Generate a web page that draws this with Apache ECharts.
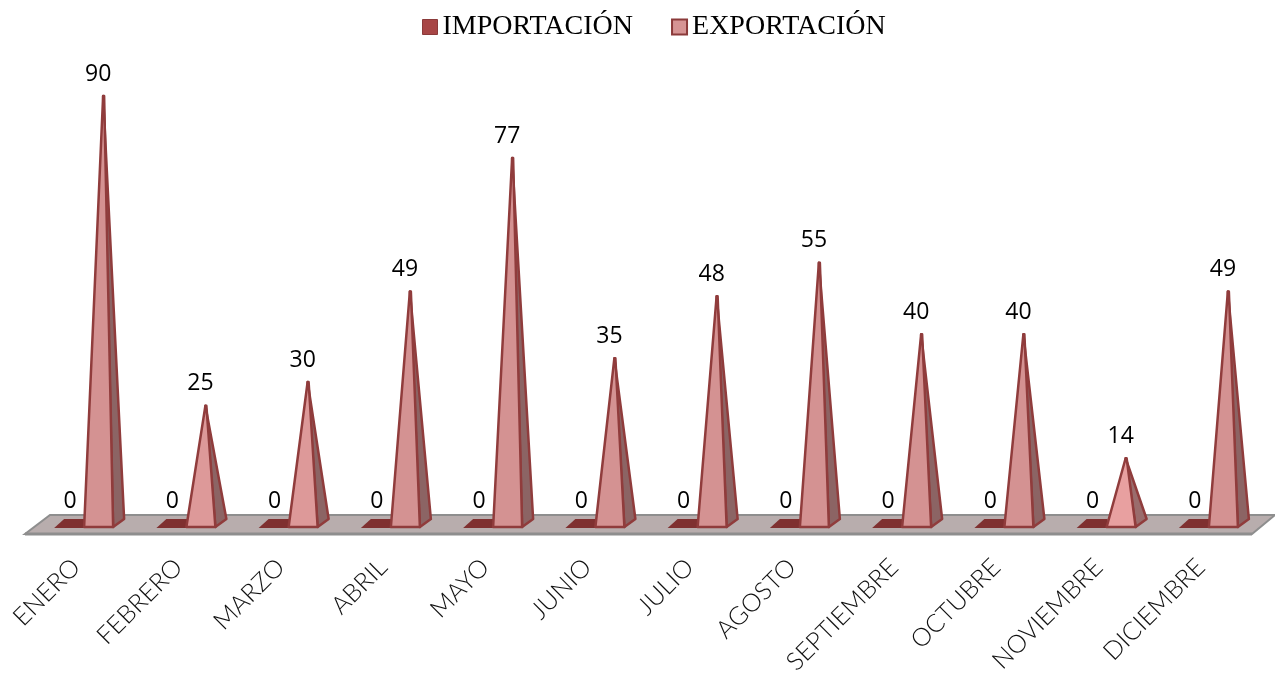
<!DOCTYPE html>
<html>
<head>
<meta charset="utf-8">
<style>
  html, body { margin: 0; padding: 0; background: #fff; }
  #chart { width: 1275px; height: 673px; }
</style>
<script src="https://cdn.jsdelivr.net/npm/echarts@6/dist/echarts.min.js"></script>
</head>
<body>
<div id="chart"></div>
<script>
const meses = ['ENERO', 'FEBRERO', 'MARZO', 'ABRIL', 'MAYO', 'JUNIO', 'JULIO', 'AGOSTO', 'SEPTIEMBRE', 'OCTUBRE', 'NOVIEMBRE', 'DICIEMBRE']
const importacion = [0, 0, 0, 0, 0, 0, 0, 0, 0, 0, 0, 0]
const exportacion = [90, 25, 30, 49, 77, 35, 48, 55, 40, 40, 14, 49]

const numFont = '23px "Open Sans"'
const borde = '#903c3c'

function etiqueta(x, y, valor) {
  return {
    type: 'text',
    style: { x, y, text: String(valor), font: numFont, fill: '#000', align: 'center', verticalAlign: 'middle' }
  }
}

// piso gris del grafico 3d
function renderPiso(params) {
  const g = params.coordSys
  const yBase = g.y + g.height
  return {
    type: 'group',
    children: [{
      type: 'polygon',
      shape: { points: [[g.x, yBase + 9], [g.x + g.width, yBase + 9], [g.x + g.width + 23, yBase - 10], [g.x + 25, yBase - 10]] },
      style: { fill: '#b8adad', stroke: '#8e8e8e', lineWidth: 2 }
    }, {
      type: 'line',
      shape: { x1: g.x, y1: yBase + 9, x2: g.x + g.width, y2: yBase + 9 },
      style: { stroke: '#8e8e8e', lineWidth: 3 }
    }]
  }
}

// importacion: valor 0, solo queda la base plana
function renderImportacion(params, api) {
  const p = api.coord([api.value(0), api.value(1)])
  const base = p[1] + 3
  const cx = p[0]
  return {
    type: 'group',
    children: [{
      type: 'polygon',
      shape: { points: [[cx - 22, base], [cx + 9, base], [cx + 9, base - 9], [cx - 12, base - 9]] },
      style: { fill: '#7f3030' }
    }, etiqueta(cx - 6, p[1] - 24, api.value(1))]
  }
}

// las piramides cortas salen mas claras en el original
function colorFrente(v) {
  if (v < 20) return '#e8a0a0'
  if (v < 35) return '#dd9999'
  return '#d49292'
}

function renderExportacion(params, api) {
  const idx = api.value(0)
  const v = api.value(1)
  const cero = api.coord([idx, 0])
  const p = api.coord([idx, v])
  const cx = cero[0]
  const base = cero[1] + 2
  const ax = cx + 27
  return {
    type: 'group',
    children: [{
      type: 'polygon',
      shape: { points: [[cx + 37, base], [cx + 48, base - 8], [ax, p[1]]] },
      style: { fill: v < 20 ? '#9a6c6c' : '#8c6464', stroke: borde, lineWidth: 2.5, lineJoin: 'round' }
    }, {
      type: 'polygon',
      shape: { points: [[cx + 8, base], [cx + 37, base], [ax + 1, p[1]], [ax, p[1]]] },
      style: { fill: colorFrente(v), stroke: borde, lineWidth: 2.5, lineJoin: 'round' }
    }, etiqueta(cx + 22, p[1] - 22, v)]
  }
}

const chart = echarts.init(document.getElementById('chart'), null, { renderer: 'canvas' })
chart.setOption({
  animation: false,
  backgroundColor: '#fff',
  legend: {
    left: 417,
    top: 8,
    itemWidth: 15,
    itemHeight: 15,
    itemGap: 38,
    textStyle: { fontFamily: '"Liberation Serif"', fontSize: 28, color: '#000' },
    data: [
      { name: 'IMPORTACIÓN', icon: 'rect', itemStyle: { color: '#a84646', borderColor: '#8b3a3a', borderWidth: 1 } },
      { name: 'EXPORTACIÓN', icon: 'rect', itemStyle: { color: '#d69494', borderColor: '#8b3a3a', borderWidth: 2 } }
    ]
  },
  grid: { left: 25, right: 23, top: 96, bottom: 148, outerBoundsMode: 'none' },
  xAxis: {
    type: 'category',
    data: meses,
    axisLine: { show: false },
    axisTick: { show: false },
    axisLabel: {
      interval: 0,
      rotate: 45,
      margin: 38,
      fontFamily: '"Lato Light", Lato',
      fontWeight: 300,
      fontSize: 25,
      color: '#111'
    }
  },
  yAxis: { type: 'value', min: 0, max: 90, show: false },
  series: [
    { name: 'piso', type: 'custom', z: 1, silent: true, data: [[0, 0]], renderItem: renderPiso, clip: false },
    {
      name: 'IMPORTACIÓN',
      type: 'custom',
      z: 2,
      data: importacion.map((v, i) => [i, v]),
      renderItem: renderImportacion,
      clip: false
    },
    {
      name: 'EXPORTACIÓN',
      type: 'custom',
      z: 3,
      data: exportacion.map((v, i) => [i, v]),
      renderItem: renderExportacion,
      clip: false
    }
  ]
})
</script>
</body>
</html>
